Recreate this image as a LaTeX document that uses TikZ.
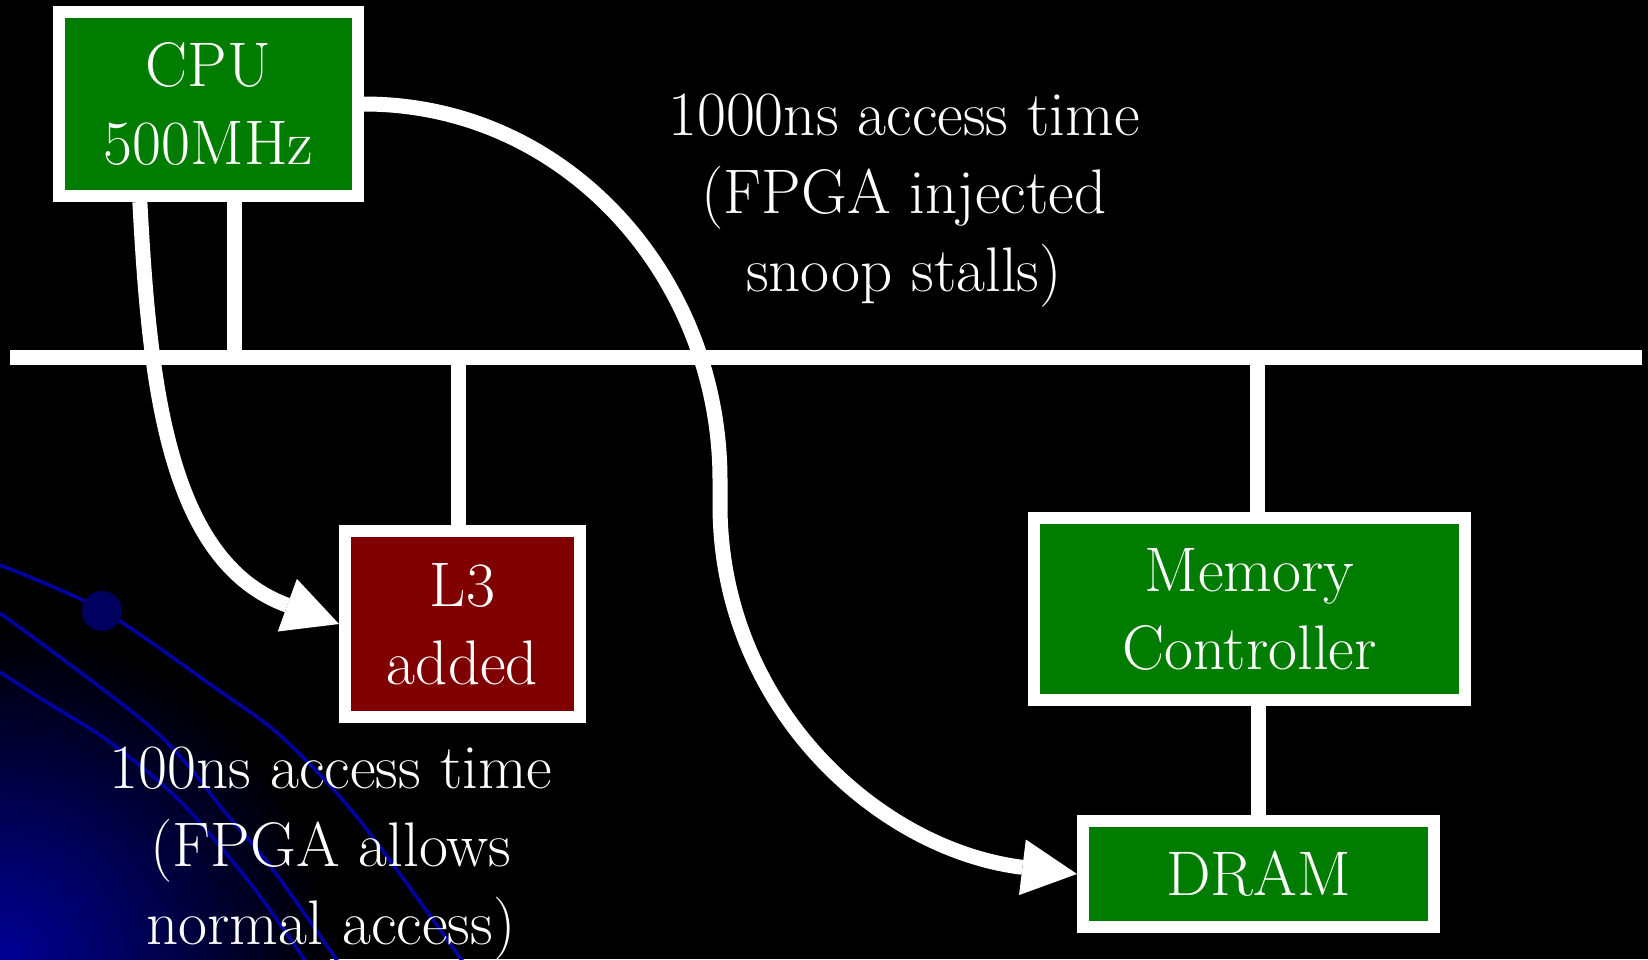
\documentclass[tikz,border=0pt]{standalone}
\usepackage{fontspec}
\usetikzlibrary{arrows.meta}

\definecolor{boxgreen}{RGB}{0,124,0}
\definecolor{boxred}{RGB}{128,0,0}
\definecolor{glowblue}{RGB}{0,0,150}
\definecolor{swoosh}{RGB}{0,0,165}
\definecolor{dotblue}{RGB}{0,0,95}
\newcommand{\slidefont}{\fontsize{63}{78}\selectfont}

\begin{document}
\begin{tikzpicture}[
                    x=1pt, y=-1pt,
                    every node/.style={text=white, font=\slidefont, align=center},
                    unit/.style={rectangle, draw=white, line width=12pt, fill=boxgreen, inner sep=0pt},
                    wire/.style={draw=white, line width=15pt},
                    flow/.style={wire, -{Triangle[length=55pt, width=56pt, line width=0pt]}},
                    swirl/.style={draw=swoosh, line width=3.5pt}
                ]
                \useasboundingbox (0,0) rectangle (1648,959);
                % backdrop with the corner glow
                \fill[black] (0,0) rectangle (1648,959);
                \begin{scope}
                    \clip (0,0) rectangle (1648,959);
                    \shade[inner color=glowblue, outer color=black] (0,959) circle (330);
                    \draw[swirl] plot[smooth] coordinates {(0,565) (102,610) (214,687) (282,737) (357,817) (461,959) (475,985)};
                    \draw[swirl] plot[smooth] coordinates {(0,613) (154,730) (229,817) (271,867) (336,959) (350,985)};
                    \draw[swirl] plot[smooth] coordinates {(0,672) (43,700) (107,740) (179,800) (250,883) (304,959) (318,985)};
                    \fill[dotblue] (102,611) circle (20);
                \end{scope}

                % units
                \node[unit, minimum width=299pt, minimum height=184pt] (cpu) at (208.5,104) {CPU\\500MHz};
                \node[unit, fill=boxred, minimum width=235pt, minimum height=186pt] (l3) at (462.5,624) {L3\\added};
                \node[unit, minimum width=431pt, minimum height=182pt] (mc) at (1249.5,609) {Memory\\Controller};
                \node[unit, minimum width=351pt, minimum height=106pt] (dram) at (1258.5,874) {DRAM};

                % notes
                \node (slow) at (904,201) {1000ns access time\\(FPGA injected\\snoop stalls)};
                \node (fast) at (331,854) {100ns access time\\(FPGA allows\\normal access)};

                % system bus and its taps
                \coordinate (busW) at (10,357.5);
                \coordinate (busE) at (1642,357.5);
                \coordinate (cpuTap) at (234,357.5);
                \coordinate (l3Tap) at (458,357.5);
                \coordinate (mcTap) at (1257,357.5);
                \draw[wire] (busW) -- (busE);
                \draw[wire] (cpu.south -| cpuTap) -- (cpuTap);
                \draw[wire] (l3Tap) -- (l3Tap |- l3.north);
                \draw[wire] (mcTap) -- (mcTap |- mc.north);
                \draw[wire] (mc.south -| dram.north) -- (dram.north);

                % access paths
                \coordinate (dropTop) at (720,480);
                \coordinate (dropEnd) at (720,505);
                \draw[flow] (cpu.235) to[out=-87, in=160] (l3.west);
                \draw[flow] (cpu.east) to[out=0, in=90] (dropTop) -- (dropEnd) to[out=-90, in=173] (dram.west);
                \end{tikzpicture}
\end{document}
